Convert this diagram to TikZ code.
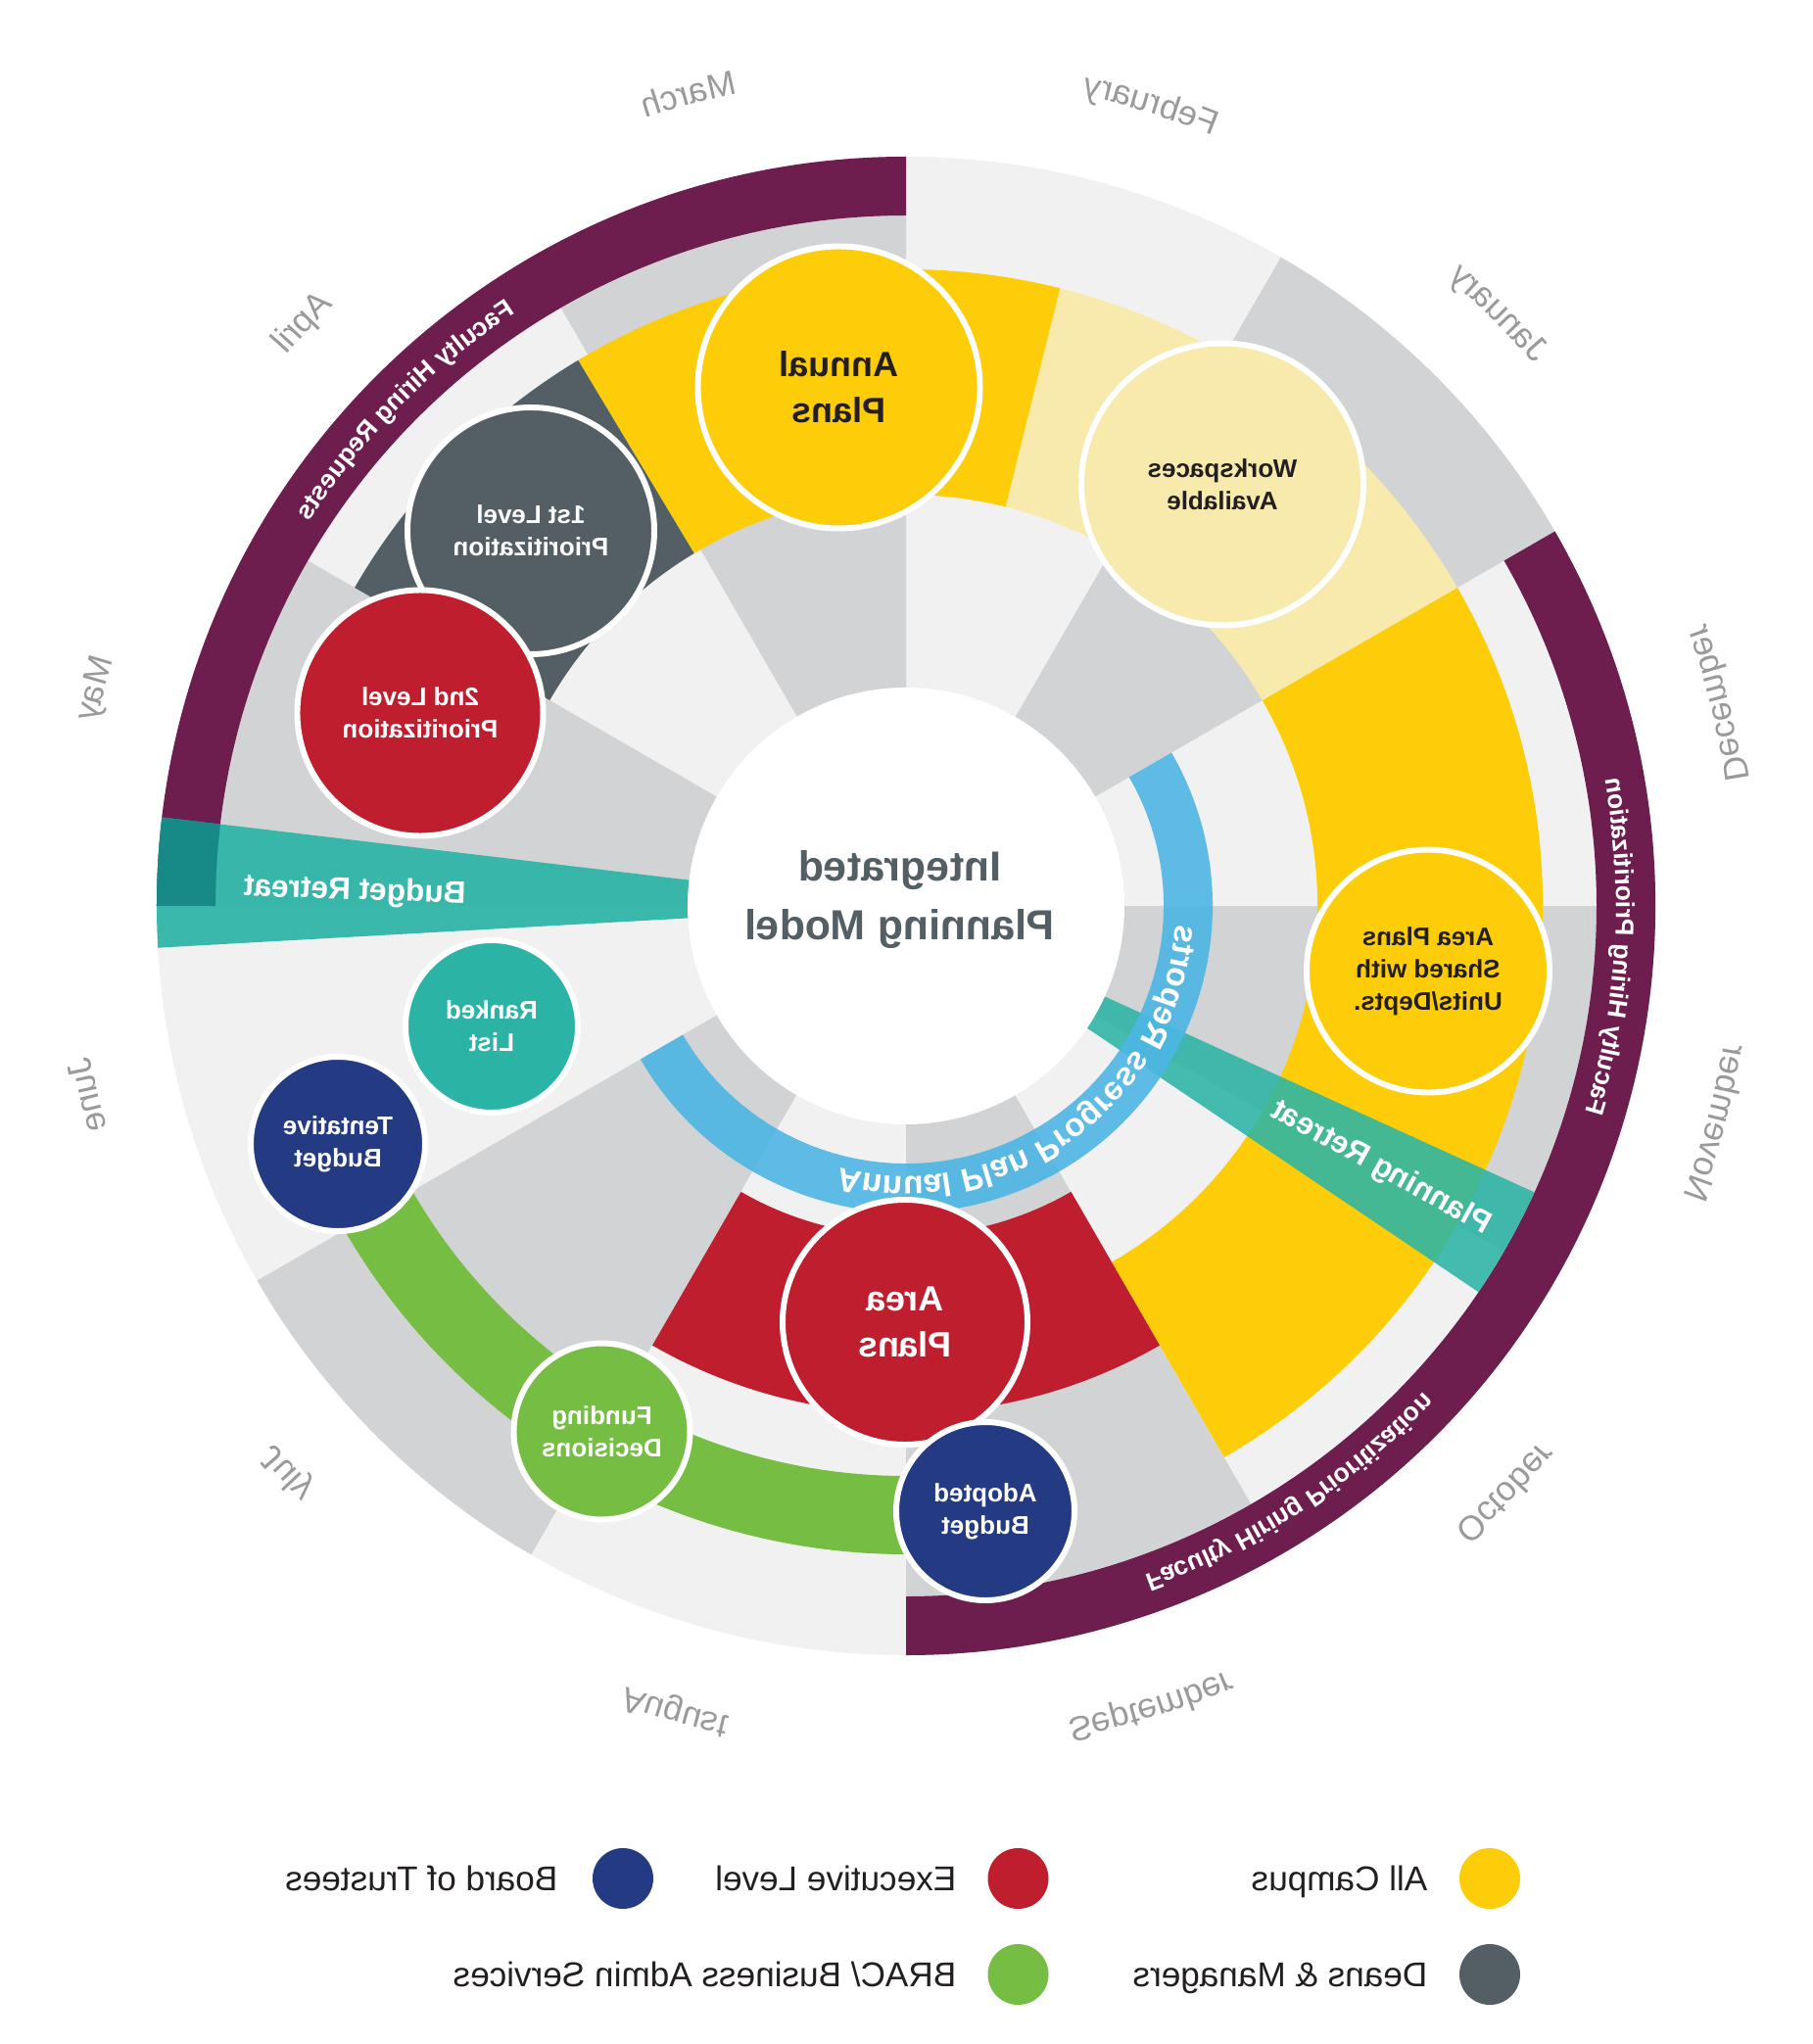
\documentclass[tikz,border=0pt]{standalone}
\usepackage{fontspec}
\setmainfont{Liberation Sans}
\usepackage{graphicx}
\definecolor{cLight}{HTML}{F1F1F2}
\definecolor{cGray}{HTML}{D1D3D4}
\definecolor{cPurp}{HTML}{6D1D4E}
\definecolor{cYel}{HTML}{FDCD0A}
\definecolor{cLYel}{HTML}{F8E9AC}
\definecolor{cDGray}{HTML}{545E65}
\definecolor{cRed}{HTML}{BE1E2D}
\definecolor{cNavy}{HTML}{243B84}
\definecolor{cGrn}{HTML}{76BE43}
\definecolor{cTeal}{HTML}{2BB4A6}
\definecolor{cTealDk}{HTML}{178A87}
\definecolor{cBlue}{HTML}{4DB6E4}
\definecolor{cMonth}{HTML}{9A9A9A}
\definecolor{cInk}{HTML}{231F20}

\newcommand\annsec[5]{\fill[#1] (#4:#2) arc[start angle=#4, end angle=#5, radius=#2] -- (#5:#3) arc[start angle=#5, end angle=#4, radius=#3] -- cycle;}
\newcommand\fMonth{\fontsize{10}{12}\selectfont\color{cMonth}}
\newcommand\fBand{\fontsize{7.5}{9}\selectfont\bfseries\color{white}}
\newcommand\fBlue{\fontsize{9.5}{11}\selectfont\bfseries\color{white}}

\ExplSyntaxOn
\box_new:N \l__rs_box
\dim_new:N \l__rs_tot_dim
\fp_new:N \l__rs_ang_fp
\fp_new:N \l__rs_step_fp
\tl_new:N \l__rs_pos_tl
\cs_new_protected:Npn \__rs_measure:nn #1 #2
  {
    \hbox_set:Nn \l__rs_box { \pgfinterruptpicture #1 #2 \endpgfinterruptpicture }
    \dim_compare:nNnT { \box_wd:N \l__rs_box } < { 0.5pt }
      { \hbox_set:Nn \l__rs_box { \pgfinterruptpicture #1 \kern 0.278em \endpgfinterruptpicture } }
  }
\NewDocumentCommand \ArcText { m m m m }
  {
    \dim_zero:N \l__rs_tot_dim
    \str_map_inline:nn { #4 }
      {
        \__rs_measure:nn { #3 } { ##1 }
        \dim_add:Nn \l__rs_tot_dim { \box_wd:N \l__rs_box }
      }
    \fp_set:Nn \l__rs_ang_fp
      { (#1) - ( \dim_to_fp:n { \l__rs_tot_dim } / 28.45274 / (#2) ) * 90 / pi }
    \str_map_inline:nn { #4 }
      {
        \__rs_measure:nn { #3 } { ##1 }
        \fp_set:Nn \l__rs_step_fp
          { ( \dim_to_fp:n { \box_wd:N \l__rs_box } / 28.45274 / (#2) ) * 180 / pi }
        \tl_set:Nx \l__rs_pos_tl
          { \fp_eval:n { round( \l__rs_ang_fp + \l__rs_step_fp / 2 , 4 ) } }
        \fp_add:Nn \l__rs_ang_fp { \l__rs_step_fp }
        \RsPlaceChar { \l__rs_pos_tl } { #2 } { #3 } { ##1 }
      }
  }
\ExplSyntaxOff
\newcommand\RsPlaceChar[4]{%
  \node[archar, rotate=#1-90] at (#1:#2) {\reflectbox{#3#4}};%
}

\tikzset{
  archar/.style={anchor=base, inner sep=0pt, outer sep=0pt},
  bub/.style={circle, draw=white, line width=1.7pt, inner sep=0pt, align=center, xscale=-1},
  bigtxt/.style={font=\fontsize{10.2}{13.4}\selectfont\bfseries},
  smalltxt/.style={font=\fontsize{7.4}{9.4}\selectfont\bfseries},
  wedgetxt/.style={inner sep=0pt, text=white, font=\fontsize{9}{11}\selectfont\bfseries},
  legdot/.style={circle, inner sep=0pt, minimum size=0.62cm},
  legtxt/.style={anchor=base east, inner sep=0pt, text=cInk, font=\fontsize{10}{12}\selectfont},
}

\begin{document}
\begin{tikzpicture}
\useasboundingbox (-9.25,-11.62) rectangle (9.25,9.25);
\fill[white] (-9.25,-11.62) rectangle (9.25,9.25);
% base wheel
\foreach \i in {0,...,11}{
  \ifodd\i \def\sc{cGray}\else\def\sc{cLight}\fi
  \fill[fill=\sc] (0,0) -- ({30*\i}:7.65) arc[start angle={30*\i}, end angle={30*\i+30}, radius=7.65] -- cycle;
}
% bands
\annsec{cPurp}{7.05}{7.65}{90}{180}
\annsec{cPurp}{7.05}{7.65}{270}{390}
\annsec{cYel}{4.2}{6.5}{-60}{30}
\annsec{cLYel}{4.2}{6.5}{30}{76}
\annsec{cYel}{4.2}{6.5}{76}{121}
\annsec{cDGray}{4.2}{6.5}{121}{150}
\annsec{cRed}{3.37}{5.18}{240}{300}
\annsec{cGrn}{5.82}{6.62}{210}{270}
% retreat wedges
\fill[cTeal, opacity=.92] (0,0) -- (173.2:7.65) arc[start angle=173.2, end angle=183.2, radius=7.65] -- cycle;
\annsec{cTealDk}{7.05}{7.65}{173.2}{180}
\fill[cTeal, opacity=.88] (0,0) -- (-34:7.05) arc[start angle=-34, end angle=-24.5, radius=7.05] -- cycle;
% progress reports band
\annsec{cBlue, opacity=.9}{2.63}{3.13}{210}{390}
% centre
\fill[white] (0,0) circle[radius=2.23];
\node[xscale=-1, align=center, text=cDGray, inner sep=0pt, font=\fontsize{12.2}{16.8}\selectfont\bfseries] (ipm) at (-0.065,0.065) {Integrated\\Planning Model};

% bubbles
\node[bub, fill=cYel, minimum size=2.88cm, bigtxt, text=cInk] (annual) at (-0.685,5.295) {Annual\\Plans};
\node[bub, fill=cLYel, minimum size=2.88cm, smalltxt, text=cInk] (work) at (3.23,4.305) {Workspaces\\Available};
\node[bub, fill=cDGray, minimum size=2.52cm, smalltxt, text=white] (first) at (-3.83,3.83) {1st Level\\Prioritization};
\node[bub, fill=cRed, minimum size=2.51cm, smalltxt, text=white] (second) at (-4.96,1.97) {2nd Level\\Prioritization};
\node[bub, fill=cYel, minimum size=2.48cm, smalltxt, text=cInk] (shared) at (5.33,-0.665) {Area Plans\\Shared with\\Units/Depts.};
\node[bub, fill=cRed, minimum size=2.50cm, bigtxt, text=white] (area) at (-0.01,-4.25) {Area\\Plans};
\node[bub, fill=cGrn, minimum size=1.80cm, smalltxt, text=white] (fund) at (-3.105,-5.365) {Funding\\Decisions};
\node[bub, fill=cNavy, minimum size=1.82cm, smalltxt, text=white] (adopt) at (0.81,-6.18) {Adopted\\Budget};
\node[bub, fill=cTeal, minimum size=1.76cm, smalltxt, text=white] (ranked) at (-4.23,-1.23) {Ranked\\List};
\node[bub, fill=cNavy, minimum size=1.78cm, smalltxt, text=white] (tent) at (-5.80,-2.43) {Tentative\\Budget};

% straight band labels
\node[wedgetxt, rotate=-2] (brt) at (178.5:5.63) {\reflectbox{Budget Retreat}};
\node[wedgetxt, rotate=-29] (prt) at (-28.9:5.54) {\reflectbox{Planning Retreat}};

% curved labels
\ArcText{135.3}{7.25}{\fBand}{Faculty Hiring Requests}
\ArcText{-3.3}{7.25}{\fBand}{Faculty Hiring Prioritization}
\ArcText{-56.8}{7.25}{\fBand}{Faculty Hiring Prioritization}
\ArcText{306}{2.76}{\fBlue}{Annual Plan Progress Reports}

\ArcText{14}{8.47}{\fMonth}{December}
\ArcText{45}{8.47}{\fMonth}{January}
\ArcText{73}{8.47}{\fMonth}{February}
\ArcText{105}{8.47}{\fMonth}{March}
\ArcText{136}{8.47}{\fMonth}{April}
\ArcText{165}{8.47}{\fMonth}{May}
\ArcText{193}{8.47}{\fMonth}{June}
\ArcText{222.5}{8.47}{\fMonth}{July}
\ArcText{254}{8.47}{\fMonth}{August}
\ArcText{287}{8.47}{\fMonth}{September}
\ArcText{315.6}{8.47}{\fMonth}{October}
\ArcText{345}{8.47}{\fMonth}{November}

% legend
\node[legdot, fill=cYel] (d1) at (5.96,-9.93) {};
\node[legtxt] (t1) at (5.33,-10.055) {\reflectbox{All Campus}};
\node[legdot, fill=cDGray] (d2) at (5.96,-10.91) {};
\node[legtxt] (t2) at (5.33,-11.035) {\reflectbox{Deans \& Managers}};
\node[legdot, fill=cRed] (d3) at (1.145,-9.93) {};
\node[legtxt] (t3) at (0.52,-10.055) {\reflectbox{Executive Level}};
\node[legdot, fill=cGrn] (d4) at (1.145,-10.91) {};
\node[legtxt] (t4) at (0.52,-11.035) {\reflectbox{BRAC/ Business Admin Services}};
\node[legdot, fill=cNavy] (d5) at (-2.89,-9.93) {};
\node[legtxt] (t5) at (-3.55,-10.055) {\reflectbox{Board of Trustees}};
\end{tikzpicture}
\end{document}
